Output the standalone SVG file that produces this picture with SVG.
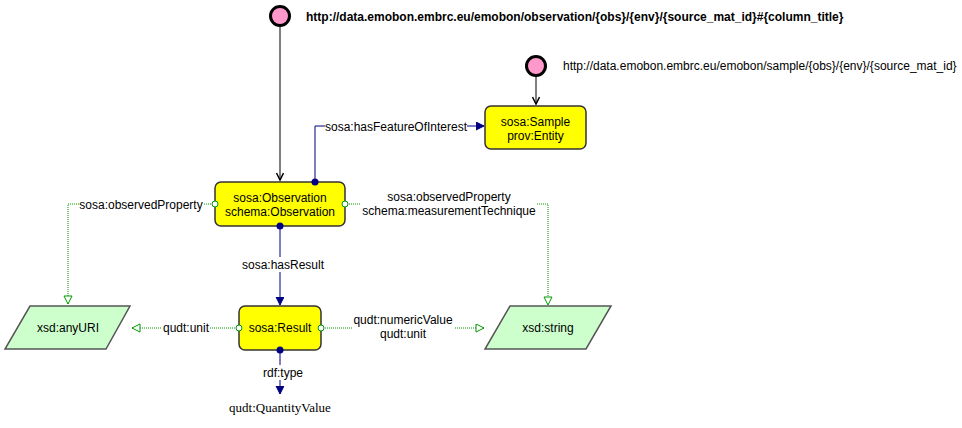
<svg xmlns="http://www.w3.org/2000/svg" width="962" height="428" viewBox="0 0 962 428">
<defs>
<style>
text{font-family:"Liberation Sans",Arial,sans-serif;font-size:12px;fill:#000}
.c{text-anchor:middle}
.node{fill:#ffff00;stroke:#333;stroke-width:1.5}
.lit{fill:#ccffcc;stroke:#555;stroke-width:1.5}
.start{fill:#ff99cc;stroke:#000;stroke-width:3}
.blk{fill:none;stroke:#000;stroke-width:1}
.obj{fill:none;stroke:#000080;stroke-width:1}
.dat{fill:none;stroke:#009900;stroke-width:1;stroke-dasharray:1 1}
.lbl{fill:#fff;stroke:none}
.dot{fill:#000080}
.odot{fill:#fff;stroke:#009900;stroke-width:1}
</style>
<marker id="aOpen" markerUnits="userSpaceOnUse" markerWidth="12" markerHeight="12" refX="8" refY="4" orient="auto">
<path d="M1,0.5 L8,4 L1,7.5" fill="none" stroke="#000" stroke-width="1.5"/>
</marker>
<marker id="aBlock" markerUnits="userSpaceOnUse" markerWidth="12" markerHeight="12" refX="8" refY="4" orient="auto">
<path d="M0,0 L8,4 L0,8 z" fill="#000080" stroke="#000080" stroke-width="1"/>
</marker>
<marker id="aTri" markerUnits="userSpaceOnUse" markerWidth="12" markerHeight="12" refX="9" refY="4.5" orient="auto">
<path d="M1,0.5 L9,4.5 L1,8.5 z" fill="#fff" stroke="#009900" stroke-width="1"/>
</marker>
</defs>

<g id="connectors">
<path class="blk" d="M280,27 V180" marker-end="url(#aOpen)"/>
<path class="blk" d="M536,76 V104" marker-end="url(#aOpen)"/>
<path class="obj" d="M315,182 V126 H484" marker-end="url(#aBlock)"/>
<rect class="lbl" x="325" y="119" width="142" height="15"/>
<text class="c" x="396" y="130.5">sosa:hasFeatureOfInterest</text>
<path class="obj" d="M280,226 V305" marker-end="url(#aBlock)"/>
<rect class="lbl" x="242" y="257" width="82" height="15"/>
<text class="c" x="283" y="268.5">sosa:hasResult</text>
<path class="dat" d="M215,204 H68 V304" marker-end="url(#aTri)"/>
<rect class="lbl" x="79" y="197" width="124" height="15"/>
<text class="c" x="141" y="208.5">sosa:observedProperty</text>
<path class="dat" d="M345,204 H548 V305" marker-end="url(#aTri)"/>
<rect class="lbl" x="361" y="189" width="176" height="29"/>
<text class="c" x="449" y="201">sosa:observedProperty</text>
<text class="c" x="449" y="215">schema:measurementTechnique</text>
<path class="dat" d="M239,328 H132" marker-end="url(#aTri)"/>
<rect class="lbl" x="162" y="321" width="48" height="15"/>
<text class="c" x="186" y="332">qudt:unit</text>
<path class="dat" d="M321,328 H484" marker-end="url(#aTri)"/>
<rect class="lbl" x="352" y="312" width="102" height="29"/>
<text class="c" x="403" y="324">qudt:numericValue</text>
<text class="c" x="403" y="338">qudt:unit</text>
<path class="obj" d="M280,350 V394" marker-end="url(#aBlock)"/>
<rect class="lbl" x="261" y="365" width="44" height="15"/>
<text class="c" x="283" y="376.5">rdf:type</text>
</g>

<g id="start-observation">
<circle class="start" cx="280" cy="16" r="9.5"/>
<text x="306" y="21" style="font-weight:bold">http://data.emobon.embrc.eu/emobon/observation/{obs}/{env}/{source_mat_id}#{column_title}</text>
</g>

<g id="start-sample">
<circle class="start" cx="536" cy="66" r="9.5"/>
<text x="563" y="70">http://data.emobon.embrc.eu/emobon/sample/{obs}/{env}/{source_mat_id}</text>
</g>

<g id="sample">
<rect class="node" x="485" y="106" width="101" height="43" rx="6"/>
<text class="c" x="535.5" y="125.5">sosa:Sample</text>
<text class="c" x="535.5" y="140">prov:Entity</text>
</g>

<g id="observation">
<rect class="node" x="215" y="182" width="130" height="44" rx="6"/>
<text class="c" x="280" y="201.5">sosa:Observation</text>
<text class="c" x="280" y="215.5">schema:Observation</text>
</g>

<g id="result">
<rect class="node" x="239" y="306" width="82" height="44" rx="6"/>
<text class="c" x="280" y="332">sosa:Result</text>
</g>

<g id="anyURI">
<polygon class="lit" points="30,306 130,306 106,349 5,349"/>
<text class="c" x="68" y="332">xsd:anyURI</text>
</g>

<g id="string">
<polygon class="lit" points="510,306 611,306 586,349 485,349"/>
<text class="c" x="548" y="332">xsd:string</text>
</g>

<g id="quantityValue">
<text class="c" x="280" y="412" style="font-family:'Liberation Serif','Times New Roman',serif;font-size:13px">qudt:QuantityValue</text>
</g>

<g id="connector-ends">
<circle class="dot" cx="315" cy="182" r="3.5"/>
<circle class="dot" cx="280" cy="226" r="3.5"/>
<circle class="dot" cx="280" cy="350" r="3.5"/>
<circle class="odot" cx="215" cy="204" r="3"/>
<circle class="odot" cx="345" cy="204" r="3"/>
<circle class="odot" cx="239" cy="328" r="3"/>
<circle class="odot" cx="321" cy="328" r="3"/>
</g>
</svg>
